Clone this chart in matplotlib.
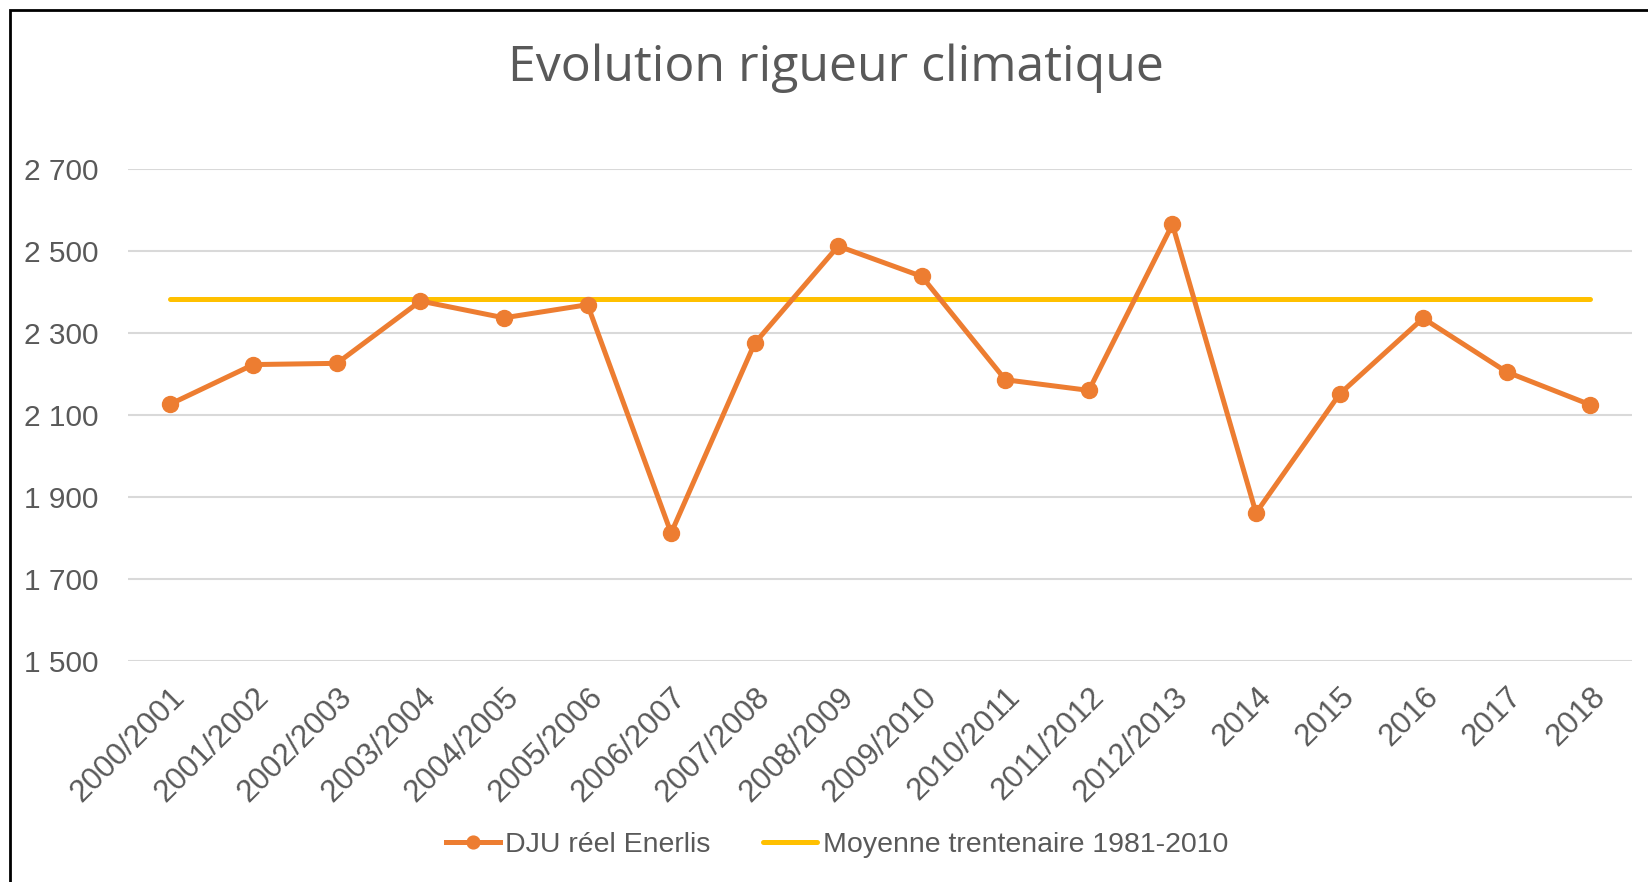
import matplotlib.pyplot as plt
from matplotlib.patches import Rectangle
from matplotlib.ticker import FuncFormatter

saisons = ['2000/2001', '2001/2002', '2002/2003', '2003/2004', '2004/2005', '2005/2006',
           '2006/2007', '2007/2008', '2008/2009', '2009/2010', '2010/2011', '2011/2012',
           '2012/2013', '2014', '2015', '2016', '2017', '2018']
dju_reel = [2126, 2223, 2226, 2378, 2337, 2369, 1812, 2275, 2512, 2438, 2186, 2160,
            2565, 1861, 2151, 2336, 2205, 2125]
moyenne_30 = [2382] * len(saisons)

GRIS = '#595959'


def fmt_milliers(v, pos):
    return '{:,.0f}'.format(v).replace(',', ' ')


def main():
    plt.rcParams['font.family'] = ['Liberation Sans', 'DejaVu Sans']
    fig = plt.figure(figsize=(16.49, 8.82), dpi=100)
    fig.patch.set_facecolor('white')

    # cadre du graphique (seuls les bords gauche et haut sont dans l'image)
    fig.patches.append(Rectangle((10 / 1649, -0.1), 1.2, 1 - 10 / 882 + 0.1,
                                 transform=fig.transFigure, fill=False,
                                 edgecolor='black', linewidth=2))

    ax = fig.add_axes([128 / 1649, 1 - 661 / 882, (1632 - 128) / 1649, (661 - 169) / 882])
    x = list(range(len(saisons)))

    ax.plot(x, dju_reel, color='#ED7D31', linewidth=3.6, marker='o', markersize=11.5,
            label='DJU réel Enerlis', zorder=3)
    ax.plot(x, moyenne_30, color='#FFC000', linewidth=3.6, solid_capstyle='round',
            label='Moyenne trentenaire 1981-2010', zorder=2)

    ax.set_xlim(-0.5, len(saisons) - 0.5)
    ax.set_ylim(1500, 2700)
    ax.set_yticks([1500, 1700, 1900, 2100, 2300, 2500, 2700])
    ax.yaxis.set_major_formatter(FuncFormatter(fmt_milliers))
    ax.set_xticks(x)
    ax.set_xticklabels(saisons, rotation=45, ha='right', va='top', rotation_mode='anchor')

    ax.grid(axis='y', color='#D9D9D9', linewidth=1.5)
    ax.set_axisbelow(True)
    for s in ax.spines.values():
        s.set_visible(False)
    ax.tick_params(axis='both', length=0, colors=GRIS)
    ax.tick_params(axis='y', pad=21, labelsize=21.5)
    ax.tick_params(axis='x', pad=15, labelsize=22.5)

    fig.text(836 / 1649, 1 - 68 / 882, 'Evolution rigueur climatique', ha='center', va='center',
             fontsize=36, color=GRIS, family=['Open Sans', 'DejaVu Sans'])

    fig.legend(loc='center', bbox_to_anchor=(837 / 1649, 1 - 845 / 882), ncol=2, frameon=False,
               fontsize=20.5, labelcolor=GRIS, handlelength=1.9, handletextpad=0.18,
               columnspacing=1.85, markerscale=0.8)

    fig.savefig('out.png', dpi=100)


if __name__ == '__main__':
    main()
